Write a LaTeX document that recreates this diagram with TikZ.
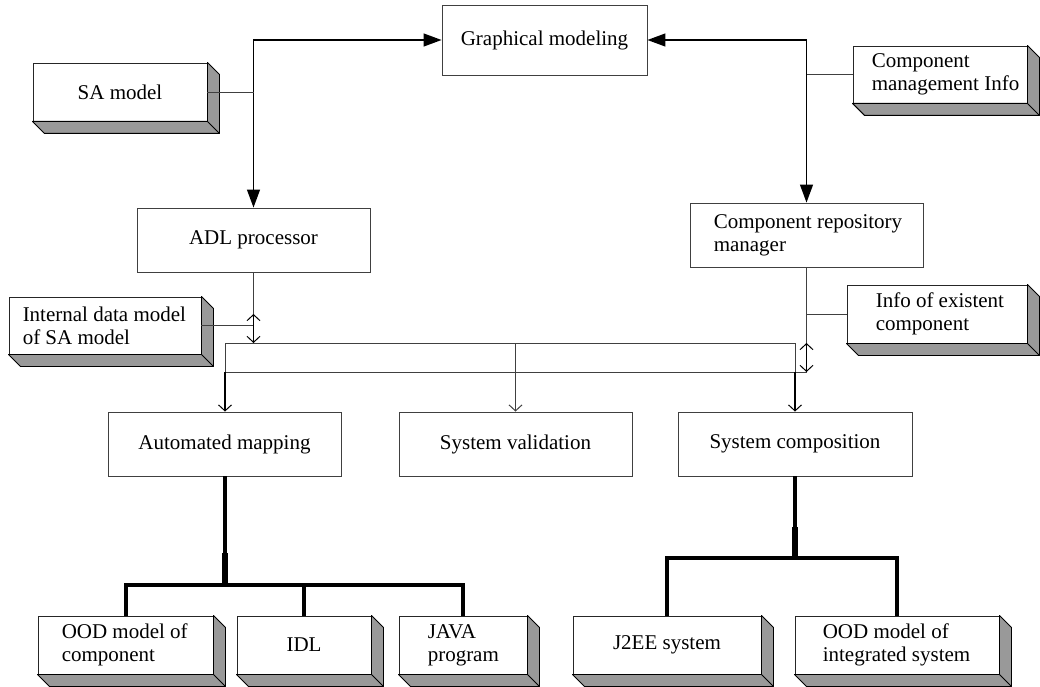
\documentclass[tikz,border=0pt]{standalone}
\usepackage{fontspec}
\setmainfont{Liberation Serif}
\usetikzlibrary{arrows.meta}

\begin{document}
\begin{tikzpicture}[x=1pt, y=-1pt,
    font=\fontsize{21}{23}\selectfont,
    block/.style={draw=black!75, line width=0.9pt, fill=white, inner sep=0pt, minimum height=64pt, minimum width=#1},
    slab/.style={draw=black!85, line width=0.9pt, fill=white, inner sep=0pt, minimum height=58pt, minimum width=#1},
    txt/.style={anchor=west, align=left, inner sep=0pt, xshift=#1},
    side/.style={fill=black!40, draw=black, line width=0.9pt, line join=round},
    wire/.style={draw=black!75, line width=0.9pt},
    feed/.style={line width=1.3pt, {Triangle[length=18pt,width=13pt]}-{Triangle[length=18pt,width=13pt]}},
    dbl/.style={line width=1.8pt, {Straight Barb[length=6pt,width=13pt,line width=1pt]}-{Straight Barb[length=6pt,width=13pt,line width=1pt]}},
    drop/.style={line width=2pt, -{Straight Barb[length=6pt,width=13pt,line width=1pt]}},
    tree/.style={line width=4pt}
  ]

  \useasboundingbox (0,0) rectangle (1040,687);

  % top row
  \node[block=205pt, minimum height=70pt] (gm) at (544.5,40) {Graphical modeling};
  \node[slab=174pt] (sa) at (120,92) {SA model};
  \node[slab=174pt, minimum height=57pt, label={[txt=19pt]west:{Component\\management Info}}] (cmi) at (940,74.5) {};

  % processors
  \node[block=233pt] (adl) at (253.5,240) {ADL processor};
  \node[block=233pt, label={[txt=24pt]west:{Component repository\\manager}}] (crm) at (806.5,235) {};
  \node[slab=192pt, minimum height=57pt, label={[txt=14pt]west:{Internal data model\\of SA model}}] (idm) at (105,325.5) {};
  \node[slab=180pt, label={[txt=29pt]west:{Info of existent\\component}}] (iec) at (937,314) {};

  % tools
  \node[block=233pt] (am) at (224.5,444) {Automated mapping};
  \node[block=233pt] (sv) at (515.5,444) {System validation};
  \node[block=234pt] (sc) at (795,444) {System composition};

  % results
  \node[slab=175pt, label={[txt=24pt]west:{OOD model of\\component}}] (oodc) at (125.5,645) {};
  \node[slab=134pt] (idl) at (304,645) {IDL};
  \node[slab=128pt, label={[txt=29pt]west:{JAVA\\program}}] (java) at (463,645) {};
  \node[slab=188pt] (j2ee) at (667,645) {J2EE system};
  \node[slab=204pt, label={[txt=28pt]west:{OOD model of\\integrated system}}] (oodi) at (897,645) {};

  % raised sides
  \foreach \n in {sa,cmi,idm,iec,oodc,idl,java,j2ee,oodi} {
    \filldraw[side] (\n.north east) -- ++(12,12) -- ([shift={(12,12)}]\n.south east)
      -- ([shift={(12,12)}]\n.south west) -- (\n.south west) -- (\n.south east) -- cycle;
    \draw[line width=0.9pt] (\n.south east) -- ++(12,12);
  }

  % modeling links
  \draw[feed] (adl.north) |- (gm.west);
  \draw[feed] (crm.north) |- (gm.east);
  \draw[wire] (sa.east) -- (sa.east -| adl.north);
  \draw[wire] (cmi.west) -- (cmi.west -| crm.north);

  % data bus
  \coordinate (bl) at (225,343);
  \coordinate (br) at (795,343);
  \coordinate (bbl) at (225,372);
  \coordinate (bbr) at (806.5,372);
  \coordinate (jl) at (253.5,314);
  \coordinate (jr) at (806.5,343);

  \draw[wire] (adl.south) -- (jl);
  \draw[wire] (idm.east) -- (idm.east -| jl);
  \draw[dbl] (jl) -- (adl.south |- bl);
  \draw[wire] (bbl) -- (bl) -- (br) -- (br |- bbl);
  \draw[wire] (bbl) -- (bbr);
  \draw[wire] (crm.south) -- (jr);
  \draw[wire] (iec.west) -- (iec.west -| jr);
  \draw[dbl] (jr) -- (bbr);

  \draw[drop] (bbl) -- (bbl |- am.north);
  \draw[drop] (br |- bbl) -- (sc.north);
  \draw[wire, -{Straight Barb[length=6pt,width=13pt,line width=1pt]}] (sv.north |- bl) -- (sv.north);

  % output trees
  \coordinate (t1) at (225,585);
  \coordinate (t2) at (795,558);

  \draw[tree] (t1 |- am.south) -- (t1);
  \draw[line width=6pt] ([yshift=32pt]t1) -- (t1);
  \draw[tree] (oodc.north) -- (oodc.north |- t1) -- (java.north |- t1) -- (java.north);
  \draw[tree] (idl.north) -- (idl.north |- t1);

  \draw[tree] (sc.south) -- (t2);
  \draw[line width=6pt] ([yshift=31pt]t2) -- (t2);
  \draw[tree] (j2ee.north) -- (j2ee.north |- t2) -- (oodi.north |- t2) -- (oodi.north);

\end{tikzpicture}
\end{document}
